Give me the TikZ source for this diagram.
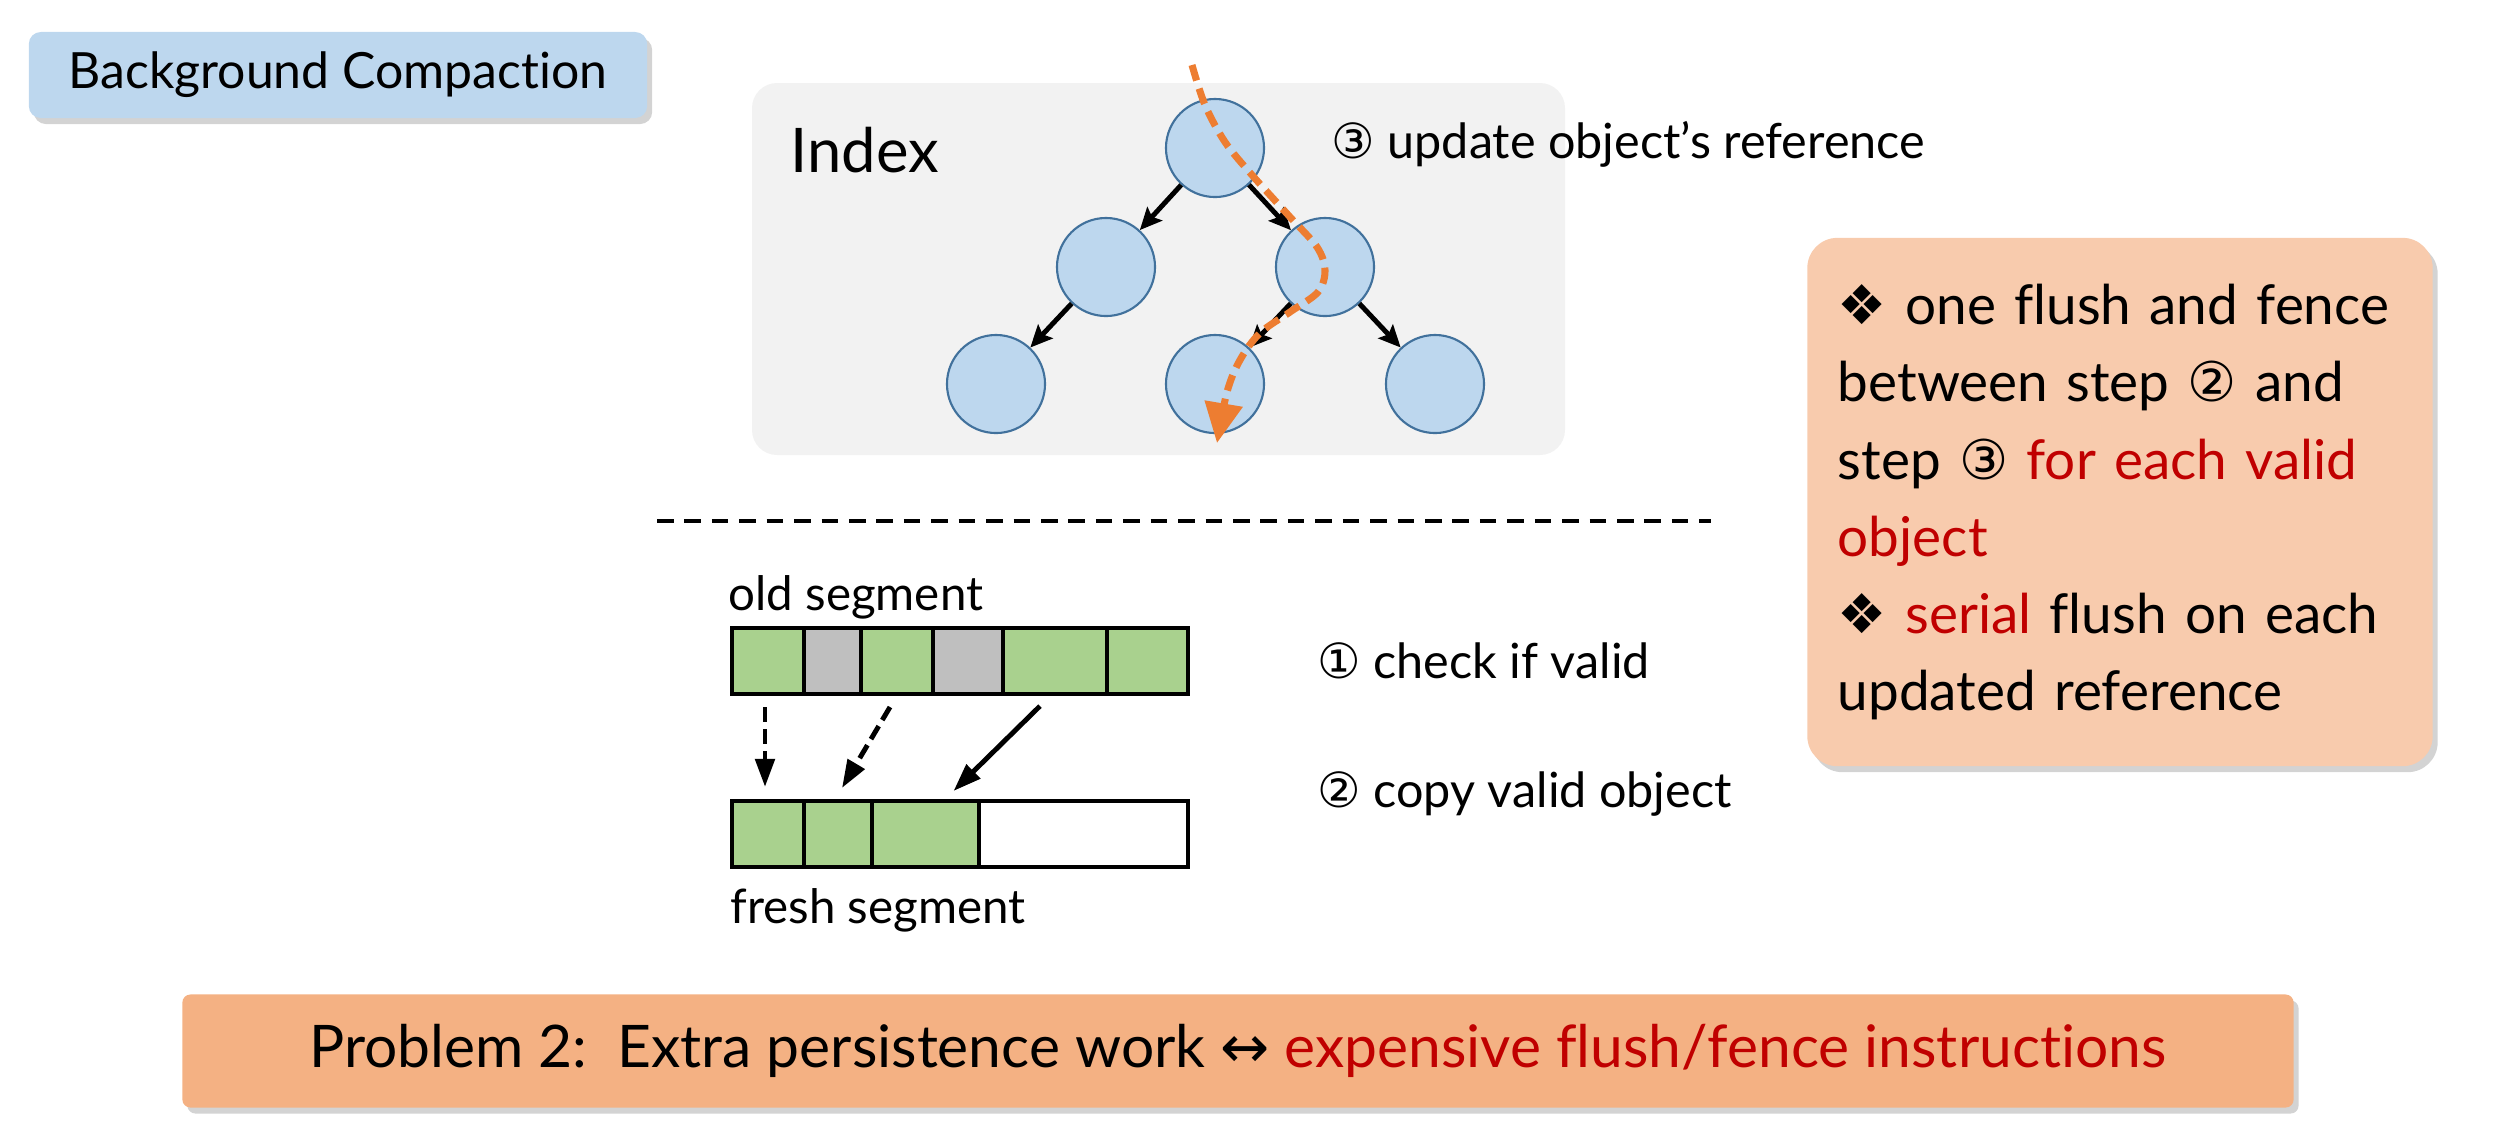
\documentclass[tikz,border=0pt]{standalone}
\usepackage{fontspec}
\setmainfont{Lato}[Ligatures=NoCommon]
\newfontfamily\symfont{DejaVu Sans}
\usetikzlibrary{positioning, shadows, arrows.meta}
\definecolor{tagblue}{HTML}{BDD7EE}
\definecolor{ringblue}{HTML}{41719C}
\definecolor{panelgray}{HTML}{F2F2F2}
\definecolor{objgreen}{HTML}{A9D18E}
\definecolor{deadgray}{HTML}{BFBFBF}
\definecolor{walkorange}{HTML}{ED7D31}
\definecolor{notepeach}{HTML}{F8CBAD}
\definecolor{probpeach}{HTML}{F4B183}
\definecolor{hotred}{HTML}{C00000}

\begin{document}
\begin{tikzpicture}[x=0.01cm, y=-0.01cm,
   shade box/.style={drop shadow={shadow xshift=0.05cm, shadow yshift=-0.06cm, opacity=0.35}},
   tagbox/.style={shade box, rounded corners=0.12cm, fill=tagblue, inner sep=0pt},
   tnode/.style={circle, draw=ringblue, fill=tagblue, line width=0.6pt, minimum size=0.98cm, inner sep=0pt},
   tedge/.style={-{Stealth[length=0.22cm, width=0.2cm, inset=0.04cm]}, line width=1.4pt},
   cell/.style={draw, line width=0.9pt, minimum height=0.66cm, inner sep=0pt, outer sep=0pt},
   copyline/.style={-{Triangle[length=0.28cm, width=0.19cm]}, line width=1.4pt},
   copydash/.style={copyline, dash pattern=on 4.3pt off 2pt},
   txt/.style={anchor=base west, inner sep=0pt},
   steplabel/.style={txt, font=\fontsize{13.8}{17}\selectfont}]
\useasboundingbox (0,0) rectangle (2496,1132);

\node[tagbox, minimum width=6.18cm, minimum height=0.86cm, font=\fontsize{14.2}{17}\selectfont] (bgc) at (338,75) {Background Compaction};

% index tree
\fill[panelgray, rounded corners=0.25cm] (752,83) rectangle (1565,455);
\node[txt, font=\fontsize{17.5}{21}\selectfont] (idx) at (790,172) {Index};
\node[tnode] (root) at (1215,148) {};
\node[tnode] (ml) at (1106,267) {};
\node[tnode] (mr) at (1325,267) {};
\node[tnode] (bl) at (996,384) {};
\node[tnode] (bm) at (1215,384) {};
\node[tnode] (br) at (1435,384) {};
\draw[tedge] (root) -- (ml);
\draw[tedge] (root) -- (mr);
\draw[tedge] (ml) -- (bl);
\draw[tedge] (mr) -- (bm);
\draw[tedge] (mr) -- (br);
\coordinate (walktop) at (1192,65);
\coordinate (walkend) at (1217,443);
\draw[walkorange, line width=2pt, dash pattern=on 4.6pt off 2.4pt, -{Triangle[length=0.4cm, width=0.37cm]}]
   plot[smooth, tension=0.55] coordinates {(walktop) (1205,105) (1225,142) (1252,175) (1290,217) (1317,247) (1325,270)
      (1318,292) (1290,312) (1260,333) (1240,360) (1227,392) (walkend)};
\node[steplabel] (upd) at (1331,158) {{\symfont ③} update object’s reference};

\draw[line width=1.1pt, dash pattern=on 4.7pt off 3.1pt] (657,521) -- (1711,521);

% segments
\node[txt, font=\fontsize{13.5}{16}\selectfont] (oldlbl) at (728,610) {old segment};
\foreach \l/\r/\c [count=\i] in {732/804/objgreen, 804/861/deadgray, 861/933/objgreen, 933/1003/deadgray, 1003/1107/objgreen, 1107/1188/objgreen}
   \node[cell, fill=\c, minimum width={(\r-\l)*0.01cm}] (old\i) at ({(\l+\r)/2},661) {};
\foreach \l/\r/\c [count=\i] in {732/804/objgreen, 804/872/objgreen, 872/979/objgreen, 979/1188/white}
   \node[cell, fill=\c, minimum width={(\r-\l)*0.01cm}] (new\i) at ({(\l+\r)/2},834) {};
\node[txt, font=\fontsize{13.5}{16}\selectfont] (newlbl) at (730,923) {fresh segment};
\draw[copydash] ([xshift=-0.03cm, yshift=-0.13cm]old1.south) -- ([xshift=-0.03cm, yshift=0.14cm]new1.north);
\draw[copydash] ([xshift=-0.07cm, yshift=-0.13cm]old3.south) -- ([xshift=0.04cm, yshift=0.13cm]new2.north);
\draw[copyline] ([xshift=-0.15cm, yshift=-0.12cm]old5.south) -- ([xshift=0.28cm, yshift=0.1cm]new3.north);
\node[steplabel] (chk) at (1317,678) {{\symfont ①} check if valid};
\node[steplabel] (cpy) at (1317,807) {{\symfont ②} copy valid object};

% notes
\node[shade box, fill=notepeach, rounded corners=0.3cm, minimum width=6.25cm, minimum height=5.28cm,
   text width=5.64cm, align=left, inner sep=0pt, font=\fontsize{15.6}{21.9}\selectfont] (note) at (2120,502)
   {{\symfont ❖} one flush and fence\\ between step {\symfont ②} and\\ step {\symfont ③} \textcolor{hotred}{for each valid}\\ \textcolor{hotred}{object}\\ {\symfont ❖} \textcolor{hotred}{serial} flush on each\\ updated reference};

\node[shade box, fill=probpeach, rounded corners=0.08cm, minimum width=21.1cm, minimum height=1.13cm,
   inner sep=0pt, font=\fontsize{16.7}{20}\selectfont] (prob) at (1238,1051)
   {Problem 2:\ \ Extra persistence work {\symfont ↔} \textcolor{hotred}{expensive flush/fence instructions}};
\end{tikzpicture}
\end{document}
